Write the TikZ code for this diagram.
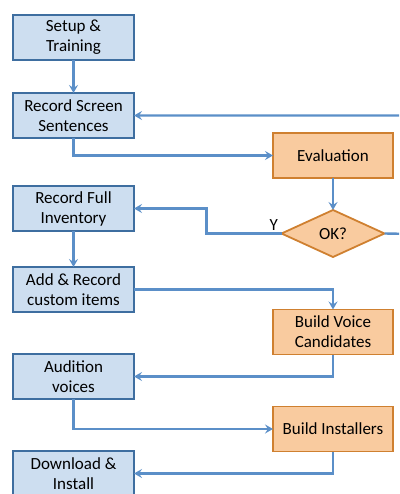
\documentclass[tikz,border=0pt]{standalone}
\usepackage{fontspec}
\setmainfont{Carlito}
\usepackage{tikz}
\usetikzlibrary{shapes.geometric,positioning,arrows.meta}

\definecolor{stepfill}{RGB}{205,222,240}
\definecolor{stepline}{RGB}{62,110,160}
\definecolor{taskfill}{RGB}{249,203,159}
\definecolor{taskline}{RGB}{207,128,48}
\definecolor{flowline}{RGB}{91,143,200}

\begin{document}
\begin{tikzpicture}[x=1pt,y=1pt,
        font=\fontsize{17}{20}\selectfont,
        stepbox/.style={draw=stepline,fill=stepfill,line width=1.8pt,
            minimum width=121pt,minimum height=45pt,inner sep=0pt,outer sep=0pt,align=center},
        taskbox/.style={draw=taskline,fill=taskfill,line width=1.8pt,
            minimum width=120pt,minimum height=45pt,inner sep=0pt,outer sep=0pt,align=center},
        check/.style={diamond,draw=taskline,fill=taskfill,line width=1.8pt,
            minimum width=103pt,minimum height=47pt,inner sep=0pt,outer sep=0pt,aspect=2.2},
        flow/.style={draw=flowline,line width=2.4pt,
            -{Stealth[length=8pt,width=9pt,inset=3pt]}},
        node distance=33pt]
        \clip (0,0) rectangle (399,-494);
        % left column
        \node[stepbox] (setup) at (73.5,-37.5) {Setup \&\\Training};
        \node[stepbox, below=33pt of setup] (screen) {Record Screen\\Sentences};
        \node[stepbox, below=48pt of screen] (inventory) {Record Full\\Inventory};
        \node[stepbox, below=36pt of inventory] (custom) {Add \& Record\\custom items};
        \node[stepbox, below=42pt of custom] (audition) {Audition\\voices};
        \node[stepbox, below=52pt of audition] (install) {Download \&\\Install};
        % right column
        \node[taskbox] (eval) at (333,-155.5) {Evaluation};
        \node[check, below=32pt of eval] (ok) {OK?};
        \node[taskbox] (candidates) at (333,-332) {Build Voice\\Candidates};
        \node[taskbox, below=52pt of candidates] (installers) {Build Installers};
        \coordinate (back) at (415,-234);
        % links
        \draw[flow] (setup) -- (screen);
        \draw[flow] (screen.south) |- (eval.west);
        \draw[flow] (eval) -- (ok);
        \draw[flow] (ok.west) -- ++(-75,0) |- (inventory.east);
        \draw[flow] (ok.east) -- (back) |- (screen.east);
        \node[above left=-1pt and 0pt of ok.west] (yes) {Y};
        \draw[flow] (inventory) -- (custom);
        \draw[flow] (custom.east) -| (candidates.north);
        \draw[flow] (candidates.south) |- (audition.east);
        \draw[flow] (audition.south) |- (installers.west);
        \draw[flow] (installers.south) |- (install.east);
\end{tikzpicture}
\end{document}
